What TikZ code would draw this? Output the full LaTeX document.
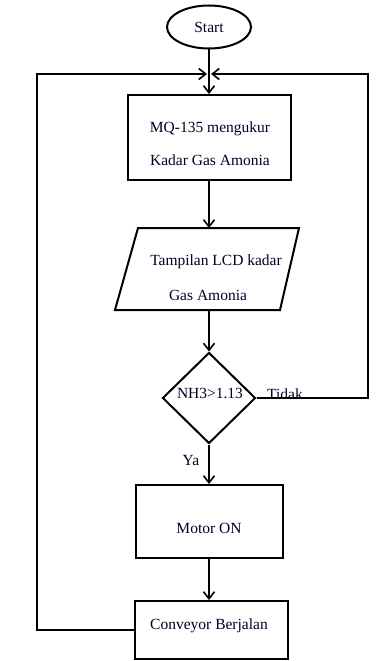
\documentclass[tikz,border=0pt]{standalone}
\usepackage{fontspec}
\setmainfont{Liberation Serif}
\usetikzlibrary{shapes.geometric,arrows.meta}
\begin{document}
\begin{tikzpicture}[x=1pt,y=-1pt,
  every node/.style={font=\fontsize{15.5}{33}\selectfont, text=black!85!blue},
  boxnode/.style={draw=black,line width=2pt,rectangle,inner sep=0pt,align=center},
  txt/.style={inner sep=0pt,align=center},
  conn/.style={draw=black,line width=2pt},
  arr/.style={conn,-{Straight Barb[length=7pt,width=11pt,line width=1.6pt]}}]
\useasboundingbox (0,0) rectangle (378,661);
\node[draw=black,line width=2pt,ellipse,minimum width=84,minimum height=43,inner sep=0pt] (start) at (209,27) {Start};
\node[boxnode,minimum width=163,minimum height=85] (b1) at (209,137.5) {};
\node[txt] (b1t) at (210,144) {MQ-135 mengukur\\Kadar Gas Amonia};
\coordinate (p1) at (138,228);
\coordinate (p2) at (299,228);
\coordinate (p3) at (280,310);
\coordinate (p4) at (115,310);
\coordinate (partop) at (209,228);
\coordinate (parbot) at (209,310);
\draw[conn,line join=miter] (p1) -- (p2) -- (p3) -- (p4) -- cycle;
\node[txt] (par1) at (216,262) {Tampilan LCD kadar};
\node[txt] (par2) at (208,295) {Gas Amonia};
\node[draw=black,line width=2pt,diamond,minimum width=93,minimum height=91,inner sep=0pt] (dec) at (209,398) {};
\node[txt] (dectext) at (210,393) {NH3>1.13};
\node[txt] (tidak) at (285,394) {Tidak};
\node[txt] (ya) at (191,460) {Ya};
\node[boxnode,minimum width=147,minimum height=73] (motor) at (209,521.5) {};
\node[txt] (motort) at (209,528) {Motor ON};
\node[boxnode,minimum width=153,minimum height=58] (conv) at (211.5,630) {};
\node[txt] (convt) at (209,626) {Conveyor Berjalan};
\coordinate (ml) at (207,74);
\coordinate (mr) at (211,74);
\coordinate (lb) at (37,630);
\coordinate (lt) at (37,74);
\coordinate (rb) at (368,398);
\coordinate (rt) at (368,74);
\draw[arr] (start.south) -- (b1.north);
\draw[arr] (b1.south) -- (partop);
\draw[arr] (parbot) -- (dec.north);
\draw[arr] (dec.south) -- (motor.north);
\draw[arr] (motor.south) -- (motor.south |- conv.north);
\draw[arr] (conv.west) -- (lb) -- (lt) -- (ml);
\draw[arr] (dec.east) -- (rb) -- (rt) -- (mr);
\end{tikzpicture}
\end{document}
